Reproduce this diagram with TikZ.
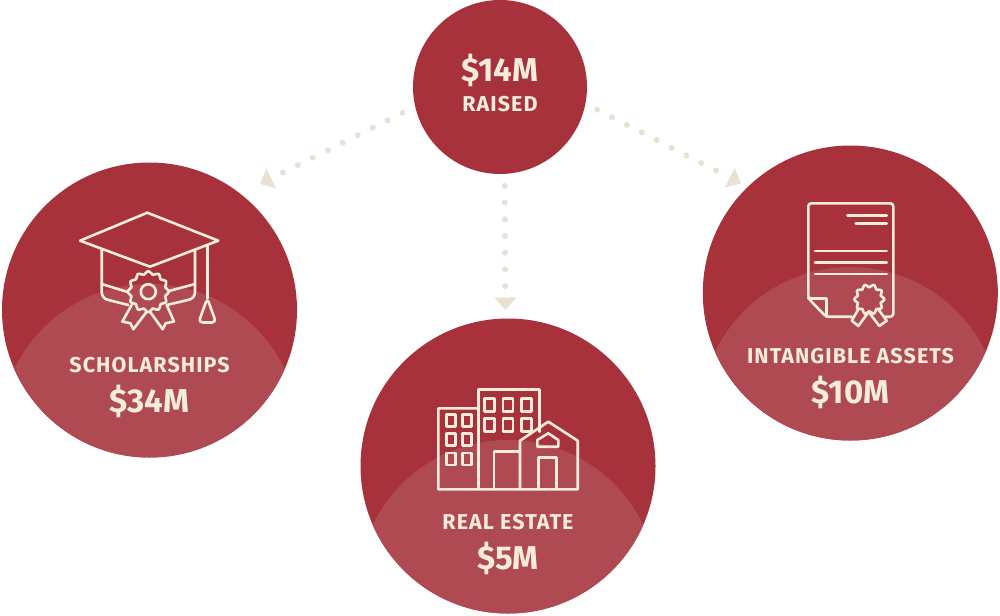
\documentclass[tikz,border=0pt]{standalone}
\usepackage{fontspec}
\usepackage{tikz}
\usetikzlibrary{arrows.meta}
\setmainfont{Fira Sans}
\newfontfamily\capsfont[LetterSpace=5]{Fira Sans}
\definecolor{wine}{HTML}{A7323C}
\definecolor{winelight}{HTML}{B04A52}
\definecolor{creamtext}{HTML}{F5ECDC}
\definecolor{creamdots}{HTML}{E9E1D1}
\tikzset{
  disc/.style={circle,fill=wine,inner sep=0pt,outer sep=0pt,minimum size=#1},
  icon/.style={draw=creamtext,line width=2.6pt,line join=round,line cap=round},
  flow/.style={draw=creamdots,line width=6pt,line cap=round,dash pattern=on 0pt off 16.7pt,
    -{Triangle[length=12.5pt,width=22pt,line width=0pt,fill=creamdots]}},
  amount/.style={text=creamtext,font=\fontsize{33}{35}\selectfont\bfseries},
  caption/.style={text=creamtext,font=\fontsize{21.5}{23}\capsfont\bfseries},
}
% wavy ring round a centre: x, y, radius, number of bumps
\newcommand{\sealring}[4]{%
  \draw[icon] plot[smooth cycle,domain=0:360-360/(4*#4),samples=4*#4]
    ({#1+(#3+1.6*cos(#4*\x))*cos(\x)},{#2+(#3+1.6*cos(#4*\x))*sin(\x)});
}

\begin{document}
\begin{tikzpicture}[x=1pt,y=-1pt]
\useasboundingbox (0,0) rectangle (1000,615);

%================ CIRCLES ==================
\node[disc=174pt] (raised) at (500,87) {};
\node[disc=295pt] (scholarships) at (149.5,310) {};
\node[disc=295pt] (realestate) at (508,466) {};
\node[disc=295pt] (assets) at (850.3,293) {};

% lighter domes
\foreach \cx/\cy in {149.5/310,508/466,850.3/293} {
  \begin{scope}
    \clip (\cx,\cy) circle (147.5);
    \fill[winelight] (\cx,\cy+124) circle (150);
  \end{scope}
}

%================ ARROWS ==================
\draw[flow,shorten <=14.2pt,shorten >=22.1pt] (raised.193.8) -- (scholarships.52.25);
\draw[flow,shorten <=12pt,shorten >=8.5pt] (raised.-87.9) -- (realestate.91.8);
\draw[flow,shorten <=13.3pt,shorten >=7.8pt] (raised.-11.9) -- (assets.134.15);

%================ CAP ==================
\draw[icon] (147.3,212.7) -- (218.3,240.7) -- (150,266.7) -- (80,240.7) -- cycle;
\draw[icon,rounded corners=6pt] (101.7,250) -- (101.7,298.3) -- (128.3,305);
\draw[icon,rounded corners=6pt] (195,250) -- (195,298.3) -- (166.7,305);
\draw[icon] (101.7,284) -- (126.7,291.7);
\draw[icon] (195,284) -- (170,290.7);
\draw[icon] (207.3,246) -- (207.3,298.3);
\draw[icon,rounded corners=4pt] (207.3,298.3) -- (198.5,322.5) -- (216,322.5) -- cycle;
\sealring{148.3}{291.7}{19}{12}
\draw[icon] (148.3,291.7) circle (7.5);
\draw[icon] (131.7,305) -- (122.3,321.5) -- (130.5,323.3) -- (133.3,329.3) -- (146.7,311.7);
\draw[icon] (166.7,305) -- (174,321.5) -- (165.7,323.3) -- (162.7,329.3) -- (150,311.7);

%================ BUILDINGS ==================
\draw[icon] (478.3,408.3) -- (438.3,408.3) -- (438.3,489.3) -- (577.7,489.3) -- (577.7,440.7)
  -- (548.3,421.7) -- (520,440.7) -- (520,489.3);
\draw[icon] (478.3,489.3) -- (478.3,389.3) -- (539.3,389.3) -- (539.3,431.7);
\draw[icon] (494,489.3) -- (494,451.7) -- (520,451.7);
\draw[icon] (538.3,489.3) -- (538.3,457.7) -- (556.7,457.7) -- (556.7,489.3);
\draw[icon] (537.3,446.7) -- (537.3,440) -- (548.3,433.3) -- (558.3,440) -- (558.3,446.7) -- cycle;
\foreach \wx in {451,467} {
  \foreach \wy in {420.7,439.3,459} {
    \draw[icon] (\wx-4.5,\wy-6) rectangle (\wx+4.5,\wy+6);
  }
}
\foreach \wx in {489.3,508,526.7} {
  \foreach \wy in {405,425} {
    \draw[icon] (\wx-5,\wy-6.5) rectangle (\wx+5,\wy+6.5);
  }
}

%================ CERTIFICATE ==================
\draw[icon,rounded corners=3pt] (851.7,316.7) -- (826,316.7) -- (808.3,298.3) -- (808.3,203.3)
  -- (893.3,203.3) -- (893.3,316.7) -- (885,316.7);
\draw[icon] (808.3,298.3) -- (826.7,298.3) -- (826.7,316.7);
\draw[icon] (847.3,215.7) -- (886.7,215.7);
\draw[icon] (855.7,223.3) -- (886.7,223.3);
\foreach \ly in {251,262.7,274} {
  \draw[icon] (815,\ly) -- (886.7,\ly);
}
\sealring{869.3}{299.3}{13.5}{10}
\draw[icon] (858.3,309.3) -- (851.7,320.7) -- (858.3,326) -- (868,312.7);
\draw[icon] (878.3,309.3) -- (886.7,320.7) -- (879.3,326) -- (869.3,312.7);

%================ TEXTS ==================
\node[amount] (raisedsum) at (500,70) {\$14M};
\node[caption] (raisedcap) at (500,104) {RAISED};
\node[caption] (scholarshipscap) at (149.5,365) {SCHOLARSHIPS};
\node[amount] (scholarshipssum) at (149.5,401) {\$34M};
\node[caption] (realestatecap) at (508,522) {REAL ESTATE};
\node[amount] (realestatesum) at (508,558) {\$5M};
\node[caption] (assetscap) at (850.5,356) {INTANGIBLE ASSETS};
\node[amount] (assetssum) at (850.5,392) {\$10M};

\end{tikzpicture}
\end{document}
